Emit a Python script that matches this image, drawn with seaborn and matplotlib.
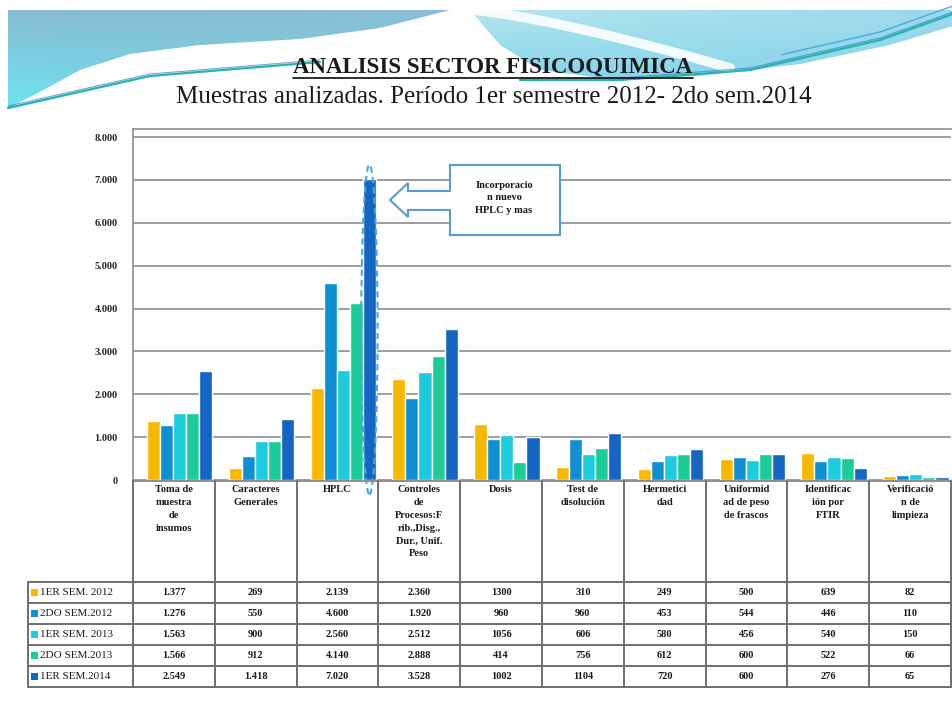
import numpy as np
import pandas as pd
import matplotlib
matplotlib.use("Agg")
import matplotlib.pyplot as plt
import seaborn as sns
from matplotlib.patches import Polygon, Ellipse, Rectangle
from matplotlib.colors import to_rgb

# ---------------- data ----------------
categorias = ["Toma de\nmuestra\nde\ninsumos", "Caracteres\nGenerales", "HPLC",
              "Controles\nde\nProcesos:F\nrib.,Disg.,\nDur., Unif.\nPeso", "Dosis",
              "Test de\ndisolución", "Hermetici\ndad", "Uniformid\nad de peso\nde frascos",
              "Identificac\nión por\nFTIR", "Verificació\nn de\nlimpieza"]
series = ["1ER SEM. 2012", "2DO SEM.2012", "1ER SEM. 2013", "2DO SEM.2013", "1ER SEM.2014"]
sem1_2012 = [1377, 269, 2139, 2360, 1300, 310, 249, 500, 639, 82]
sem2_2012 = [1276, 550, 4600, 1920, 960, 960, 453, 544, 446, 110]
sem1_2013 = [1563, 900, 2560, 2512, 1056, 606, 580, 456, 540, 150]
sem2_2013 = [1566, 912, 4140, 2888, 414, 756, 612, 600, 522, 66]
sem1_2014 = [2549, 1418, 7020, 3528, 1002, 1104, 720, 600, 276, 65]
separador_miles = [True, True, True, True, False, False, False, False, False, False]
y_ticks = [0, 1000, 2000, 3000, 4000, 5000, 6000, 7000, 8000]
titulo = "ANALISIS SECTOR FISICOQUIMICA"
subtitulo = "Muestras analizadas. Período 1er semestre 2012- 2do sem.2014"
nota = "Incorporacio\nn nuevo\nHPLC y mas"
colores = ["#F8B800", "#0E8FD3", "#1CCCDC", "#1CCC98", "#1566C2"]

valores = [sem1_2012, sem2_2012, sem1_2013, sem2_2013, sem1_2014]
df = pd.DataFrame([(c, s, v) for s, vals in zip(series, valores) for c, v in zip(categorias, vals)],
                  columns=["categoria", "serie", "valor"])

def fmt(v, sep):
    return f"{v:,}".replace(",", ".") if (sep and v >= 1000) else str(v)

W, H = 953, 721
SERIF = ["Liberation Serif", "DejaVu Serif"]
sns.set_theme(style="white")
plt.rcParams["font.family"] = SERIF

fig = plt.figure(figsize=(W / 100, H / 100), dpi=100, facecolor="white")

# ---------------- background decoration ----------------
bg = fig.add_axes([0, 0, 1, 1], zorder=-5)
bg.set_xlim(0, W); bg.set_ylim(H, 0); bg.axis("off")

def gradient_image(c_a, c_b, c_c, nx=200, ny=60):
    yy, xx = np.mgrid[0:1:ny * 1j, 0:1:nx * 1j]
    a, b, c = map(np.array, (to_rgb(c_a), to_rgb(c_b), to_rgb(c_c)))
    t = np.clip(yy * (1 - 0.6 * xx), 0, 1)[..., None]
    s = np.clip(xx, 0, 1)[..., None]
    img = a * (1 - t) + b * t
    img = img * (1 - 0.35 * s) + c * 0.35 * s
    return np.clip(img, 0, 1)

# smooth left region
xl = np.linspace(8, 450, 80)
bottom_l = np.interp(xl, [8, 40, 80, 130, 200, 300, 380, 450], [108, 92, 70, 54, 45, 39, 28, 10])
left_poly = Polygon(np.vstack([np.column_stack([xl, bottom_l]), [[450, 10], [8, 10]]]),
                    closed=True, facecolor="none", edgecolor="none")
bg.add_patch(left_poly)
im = bg.imshow(gradient_image("#86BCD3", "#6EE6F2", "#8CC4DA"), extent=(8, 450, 110, 10),
               aspect="auto", interpolation="bilinear", zorder=1)
im.set_clip_path(left_poly)

xr = np.linspace(470, 953, 80)
bottom_r = np.interp(xr, [470, 500, 540, 610, 700, 800, 890, 953], [10, 45, 70, 79, 76, 64, 45, 26])
right_poly = Polygon(np.vstack([np.column_stack([xr, bottom_r]), [[953, 10], [470, 10]]]),
                     closed=True, facecolor="none", edgecolor="none")
bg.add_patch(right_poly)
im2 = bg.imshow(gradient_image("#B4E6EE", "#7ED4EA", "#6CBFE9"), extent=(470, 953, 82, 10),
                aspect="auto", interpolation="bilinear", zorder=1)
im2.set_clip_path(right_poly)

# white swoosh across right region
tt = np.linspace(0, 1, 60)
bg.plot(470 + 260 * tt, 10 + 58 * tt ** 1.3, color="white", lw=7, alpha=0.9, zorder=2,
        solid_capstyle="round")
# thin teal/blue sweeping lines (left and right segments)
xa = np.linspace(8, 320, 120)
ya = np.interp(xa, [8, 150, 320], [108, 76, 62])
bg.plot(xa, ya, color="#22B5A8", lw=1.6, zorder=3)
bg.plot(xa, ya - 2, color="#3C7CC8", lw=0.8, alpha=0.7, zorder=3)
xb = np.linspace(520, 953, 160)
yb = np.interp(xb, [520, 620, 750, 880, 953], [80, 80, 70, 40, 14])
bg.plot(xb, yb, color="#22B5A8", lw=1.6, zorder=3)
bg.plot(xb, yb - 2, color="#3C7CC8", lw=0.8, alpha=0.7, zorder=3)
m = xb > 780
bg.plot(xb[m], yb[m] - 8, color="#4CA8D8", lw=1.0, zorder=3)

# ---------------- main chart ----------------
ax_left, ax_right = 133, 951
ax_bottom, ax_top = 480, 128.5
ax = fig.add_axes([ax_left / W, 1 - ax_bottom / H, (ax_right - ax_left) / W,
                   (ax_bottom - ax_top) / H])
ax.set_facecolor("none")
sns.barplot(data=df, x="categoria", y="valor", hue="serie", order=categorias,
            hue_order=series, palette=colores, saturation=1, width=0.8,
            legend=False, ax=ax, zorder=3)
ax.set_xlim(-0.57, 9.43)
ax.set_ylim(0, 8200)
ax.set_yticks(y_ticks)
ax.set_yticklabels([fmt(v, True) for v in y_ticks], fontsize=7.5, fontweight="bold",
                   family=SERIF)
ax.tick_params(axis="y", length=0, pad=11)
ax.tick_params(axis="x", length=0, labelbottom=False)
ax.set_xlabel(""); ax.set_ylabel("")
for yv in y_ticks:
    ax.axhline(yv, color="#8C8C8C", lw=1.2, zorder=1)
for side in ["right", "bottom"]:
    ax.spines[side].set_visible(False)
ax.spines["left"].set_color("#8C8C8C"); ax.spines["left"].set_linewidth(1.2)
ax.spines["top"].set_color("#8C8C8C"); ax.spines["top"].set_linewidth(1.2)

# dashed ellipse around the tallest HPLC bar
hplc = categorias.index("HPLC")
ax.add_patch(Ellipse((hplc + 0.32, sem1_2014[hplc] / 2), width=0.2, height=7700,
                     fill=False, edgecolor="#45AADB", lw=1.5, ls=(0, (3, 2)),
                     zorder=4, clip_on=False))

# ---------------- overlay: titles, callout, table ----------------
ov = fig.add_axes([0, 0, 1, 1], zorder=5)
ov.set_xlim(0, W); ov.set_ylim(H, 0); ov.axis("off"); ov.set_facecolor("none")

t = ov.text(493, 67, titulo, ha="center", va="center", fontsize=16.5, fontweight="bold",
            color="#1A1A1A", family=SERIF)
ov.text(494, 97, subtitulo, ha="center", va="center", fontsize=18, color="#1A1A1A",
        family=SERIF)
fig.canvas.draw()
bb = t.get_window_extent()
ov.plot([bb.x0, bb.x1], [78, 78], color="#1A1A1A", lw=1.3)

callout = Polygon([(450, 165), (560, 165), (560, 235), (450, 235), (450, 210), (408, 210),
                   (408, 217), (390, 200), (408, 183), (408, 191), (450, 191)],
                  closed=True, facecolor="white", edgecolor="#5B9BD5", lw=1.5)
ov.add_patch(callout)
ov.text(504, 198, nota, ha="center", va="center", fontsize=7.5, fontweight="bold",
        linespacing=1.45, color="#1A1A1A", family=SERIF)

# table geometry
tab_left, lab_left = 133, 28
col_w = (ax_right - ax_left) / len(categorias)
head_top, head_bot = 481, 582
row_h = 21
tab_bot = head_bot + row_h * len(series)
lc = "#6E6E6E"
ov.plot([tab_left, ax_right], [head_top, head_top], color="#8C8C8C", lw=1.4)
for r in range(len(series) + 1):
    yy_ = head_bot + r * row_h
    ov.plot([lab_left, ax_right], [yy_, yy_], color=lc, lw=1.4)
ov.plot([lab_left, lab_left], [head_bot, tab_bot], color=lc, lw=1.4)
for c in range(len(categorias) + 1):
    xx_ = tab_left + c * col_w
    ov.plot([xx_, xx_], [head_top, tab_bot], color=lc, lw=1.4)
for c, cat in enumerate(categorias):
    ov.text(tab_left + (c + 0.5) * col_w, 485, cat, ha="center", va="top", fontsize=7.5,
            fontweight="bold", linespacing=1.55, color="#1A1A1A", family=SERIF)
for r, (s, vals, col) in enumerate(zip(series, valores, colores)):
    yc = head_bot + (r + 0.5) * row_h
    ov.add_patch(Rectangle((31, yc - 3.5), 7, 7, facecolor=col, edgecolor="none"))
    ov.text(40, yc, s, ha="left", va="center", fontsize=8, color="#1A1A1A", family=SERIF)
    for c, v in enumerate(vals):
        ov.text(tab_left + (c + 0.5) * col_w, yc, fmt(v, separador_miles[c]), ha="center",
                va="center", fontsize=7.5, fontweight="bold", color="#1A1A1A", family=SERIF)

fig.savefig("out.png", dpi=100, facecolor="white")
